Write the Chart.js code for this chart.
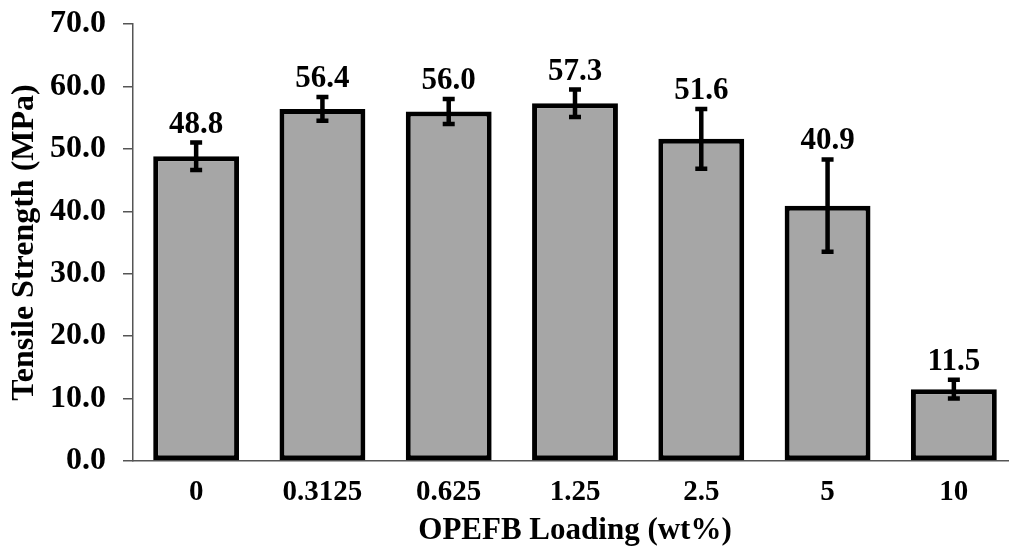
<!DOCTYPE html>
<html>
<head>
<meta charset="utf-8">
<script src="https://cdn.jsdelivr.net/npm/chart.js@4/dist/chart.umd.min.js"></script>
<style>
  html, body { margin: 0; padding: 0; background: #fff; overflow: hidden; }
  #wrap { width: 1017px; height: 550px; position: relative; }
</style>
</head>
<body>
<div id="wrap"><canvas id="chart"></canvas></div>
<script>
// OPEFB loading levels (wt%) and measured tensile strength
const loadings = ['0', '0.3125', '0.625', '1.25', '2.5', '5', '10'];
const strength = [48.8, 56.4, 56.0, 57.3, 51.6, 40.9, 11.5];
const stdDev = [2.2, 1.9, 2.0, 2.2, 4.8, 7.4, 1.5];
const yTicks = [0, 10, 20, 30, 40, 50, 60, 70];

const FONT = "'Liberation Serif', 'Times New Roman', serif";

// Error bars plus value labels over each bar
const errorBarPlugin = {
  id: 'errorBars',
  afterDatasetsDraw(chart) {
    const ctx = chart.ctx;
    const y = chart.scales.y;
    const meta = chart.getDatasetMeta(0);
    ctx.save();
    meta.data.forEach((bar, i) => {
      const cx = bar.x;
      const top = y.getPixelForValue(strength[i] + stdDev[i]);
      const bot = y.getPixelForValue(strength[i] - stdDev[i]);
      ctx.strokeStyle = '#000';
      ctx.lineWidth = 4.5;
      ctx.lineCap = 'butt';
      ctx.beginPath();
      ctx.moveTo(cx, top);
      ctx.lineTo(cx, bot);
      ctx.moveTo(cx - 6, top);
      ctx.lineTo(cx + 6, top);
      ctx.moveTo(cx - 6, bot);
      ctx.lineTo(cx + 6, bot);
      ctx.stroke();

      ctx.fillStyle = '#000';
      ctx.font = 'bold 31px ' + FONT;
      ctx.textAlign = 'center';
      ctx.textBaseline = 'alphabetic';
      ctx.fillText(strength[i].toFixed(1), cx, top - 10);
    });
    ctx.restore();
  }
};

new Chart(document.getElementById('chart'), {
  type: 'bar',
  data: {
    labels: loadings,
    datasets: [{
      data: strength,
      backgroundColor: '#a6a6a6',
      borderColor: '#000',
      borderWidth: 5,
      borderSkipped: false,
      barPercentage: 0.68,
      categoryPercentage: 1.0
    }]
  },
  options: {
    responsive: true,
    maintainAspectRatio: false,
    animation: false,
    layout: { padding: { top: 24, left: 0, right: 0, bottom: 0 } },
    plugins: {
      legend: { display: false },
      tooltip: { enabled: false }
    },
    scales: {
      x: {
        grid: { display: false, drawTicks: false },
        border: { display: true, color: '#555', width: 1.5 },
        ticks: {
          color: '#000',
          font: { family: FONT, size: 29, weight: 'bold' },
          padding: 14
        },
        title: {
          display: true,
          text: 'OPEFB Loading (wt%)',
          color: '#000',
          font: { family: FONT, size: 31, weight: 'bold' },
          padding: { top: 1, bottom: 0 }
        },
        afterFit(scale) {
          scale.height = 89;
          scale.paddingLeft = 0;
          scale.paddingRight = 0;
        }
      },
      y: {
        min: 0,
        max: 70,
        afterBuildTicks(scale) {
          scale.ticks = yTicks.map(v => ({ value: v }));
        },
        grid: {
          display: true,
          drawOnChartArea: false,
          drawTicks: true,
          tickLength: 10,
          color: '#555',
          lineWidth: 1.5
        },
        border: { display: true, color: '#555', width: 1.5 },
        ticks: {
          color: '#000',
          font: { family: FONT, size: 32, weight: 'bold' },
          padding: 17,
          callback: v => Number(v).toFixed(1)
        },
        title: {
          display: true,
          text: 'Tensile Strength (MPa)',
          color: '#000',
          font: { family: FONT, size: 32, weight: 'bold' },
          padding: { top: 6, bottom: 0 }
        },
        afterFit(scale) {
          scale.width = 133;
          scale.paddingTop = 0;
          scale.paddingBottom = 0;
        }
      }
    }
  },
  plugins: [errorBarPlugin]
});
</script>
</body>
</html>
